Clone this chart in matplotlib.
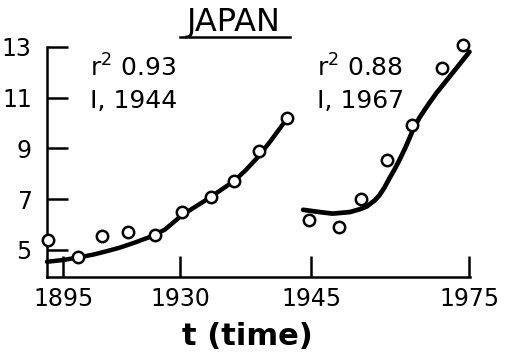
import numpy as np
import matplotlib
matplotlib.use("Agg")
import matplotlib.pyplot as plt
from matplotlib.lines import Line2D

plt.rcParams['font.family'] = ['DejaVu Sans']

# Observed values, first growth phase
years_a = [1890.4, 1899.5, 1906.5, 1914.5, 1922.5, 1930.2, 1933.5, 1936.2, 1939.0, 1942.2]
values_a = [5.37, 4.71, 5.54, 5.70, 5.59, 6.49, 7.08, 7.72, 8.90, 10.21]

# Fitted curve, first phase
fit_years_a = [1890.1, 1894.9, 1899.4, 1903.9, 1908.1, 1912.0, 1916.5, 1921.0, 1925.5,
               1930.2, 1931.8, 1933.5, 1934.8, 1936.2, 1937.5, 1938.9, 1940.25, 1941.85]
fit_values_a = [4.53, 4.60, 4.70, 4.81, 4.95, 5.09, 5.29, 5.51, 5.80,
                6.36, 6.71, 7.08, 7.39, 7.72, 8.14, 8.66, 9.25, 10.00]

# Observed values, second growth phase
years_b = [1944.7, 1950.2, 1954.5, 1959.3, 1964.0, 1969.7, 1973.8]
values_b = [6.19, 5.90, 7.02, 8.56, 9.92, 12.17, 13.09]

# Fitted curve, second phase
fit_years_b = [1944.05, 1946.6, 1949.0, 1952.3, 1954.15, 1955.5, 1957.0, 1957.9, 1958.9,
               1959.8, 1960.8, 1961.7, 1962.9, 1964.2, 1965.5, 1967.0, 1968.75, 1970.3,
               1971.8, 1973.5, 1975.0]
fit_values_b = [6.58, 6.49, 6.43, 6.49, 6.60, 6.71, 6.95, 7.15, 7.47,
                7.82, 8.18, 8.54, 9.06, 9.69, 10.21, 10.68, 11.19, 11.59,
                11.98, 12.42, 12.81]

fit_labels = [("r$^{\\mathregular{2}}$ 0.93", "I, 1944"),
              ("r$^{\\mathregular{2}}$ 0.88", "I, 1967")]

x_ticks = [1895, 1930, 1945, 1975]
y_ticks = [5, 7, 9, 11, 13]

# Piecewise-linear time axis (each era drawn at its own scale)
AXIS_YEARS = [1870.0, 1895.0, 1930.0, 1945.0, 1975.0, 2000.0]
AXIS_POS = [-20.4, 63.3, 180.0, 311.7, 470.0, 602.0]


def fwd(x):
    return np.interp(x, AXIS_YEARS, AXIS_POS)


def inv(p):
    return np.interp(p, AXIS_POS, AXIS_YEARS)


fig = plt.figure(figsize=(5.17, 3.57), dpi=100)
ax = fig.add_axes([47 / 517, 80 / 357, 423 / 517, 230 / 357])
ax.set_xscale('function', functions=(fwd, inv))
ax.set_xlim(1890.1, 1975.1)
ax.set_ylim(3.93, 13.0)

for side in ('top', 'right'):
    ax.spines[side].set_visible(False)
for side in ('left', 'bottom'):
    ax.spines[side].set_linewidth(1.8)

ax.set_xticks(x_ticks)
ax.set_xticklabels([str(t) for t in x_ticks])
ax.set_yticks(y_ticks)
ax.set_yticklabels([str(t) for t in y_ticks])
ax.xaxis.set_minor_locator(matplotlib.ticker.NullLocator())
ax.tick_params(axis='both', direction='in', length=15, width=1.8,
               labelsize=17, colors='black')
ax.tick_params(axis='x', pad=7)
ax.tick_params(axis='y', pad=11)

# fitted curves
ax.plot(fit_years_a, fit_values_a, color='black', lw=3.2,
        solid_capstyle='round', solid_joinstyle='round', clip_on=False, zorder=2)
ax.plot(fit_years_b, fit_values_b, color='black', lw=3.4,
        solid_capstyle='round', solid_joinstyle='round', clip_on=False, zorder=2)

# observations
for xs, ys in ((years_a, values_a), (years_b, values_b)):
    ax.plot(xs, ys, linestyle='none', marker='o', ms=8.2, mew=1.8,
            mfc='white', mec='black', clip_on=False, zorder=3)

# fit statistics
for x0, (l1, l2) in zip((0.102, 0.638), fit_labels):
    ax.text(x0, 0.870, l1, transform=ax.transAxes, fontsize=18,
            ha='left', va='baseline')
    ax.text(x0, 0.735, l2, transform=ax.transAxes, fontsize=18,
            ha='left', va='baseline')

# underlined heading
ax.text(0.442, 1.068, "JAPAN", transform=ax.transAxes, fontsize=23,
        ha='center', va='baseline')
ax.add_line(Line2D([0.314, 0.574], [1.043, 1.043], transform=ax.transAxes,
                   color='black', lw=1.8, clip_on=False))

fig.text(0.478, 0.034, "t (time)", fontsize=22, fontweight='bold',
         ha='center', va='baseline')

fig.savefig("out.png", dpi=100)
